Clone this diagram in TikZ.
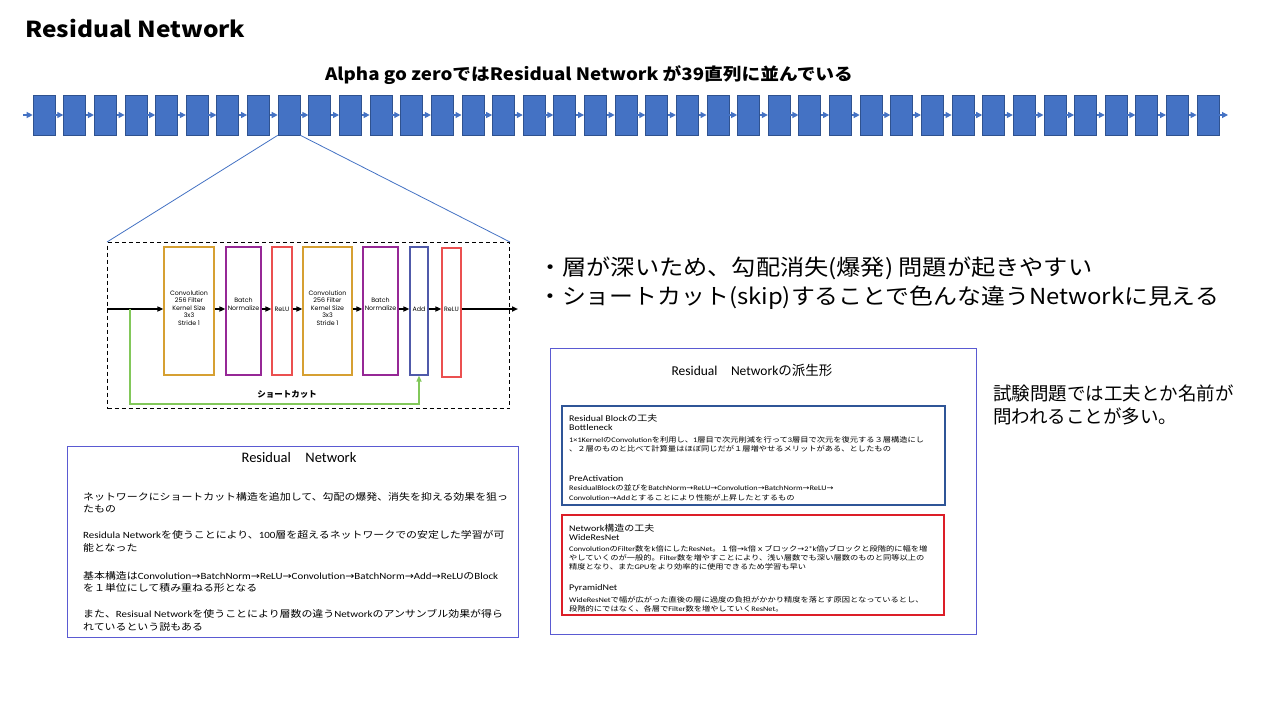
\documentclass[tikz,border=0pt]{standalone}
\usepackage{fontspec}
\usepackage{graphicx}
\usetikzlibrary{arrows.meta}
\setmainfont{Noto Sans CJK JP}
\newfontfamily\latfont{Carlito}
\newfontfamily\arrfont{DejaVu Sans}
\newfontfamily\diafont{Poppins}
\newcommand\lat[1]{{\latfont #1}}
\newcommand\rarr{{\arrfont\char"2192}}
\newcommand\sx[2]{\scalebox{#1}[1]{#2}}

\definecolor{chainblue}{RGB}{68,114,196}
\definecolor{chainedge}{RGB}{47,82,143}
\definecolor{convcol}{RGB}{214,160,50}
\definecolor{bncol}{RGB}{150,40,150}
\definecolor{relucol}{RGB}{235,80,80}
\definecolor{addcol}{RGB}{80,90,170}
\definecolor{shortcol}{RGB}{130,200,90}
\definecolor{panelcol}{RGB}{90,90,210}
\definecolor{innerblue}{RGB}{47,85,151}
\definecolor{innerred}{RGB}{220,30,40}

\begin{document}
\begin{tikzpicture}[x=1pt,y=-1pt,
  blk/.style={draw=chainedge,fill=chainblue,line width=0.6pt,minimum width=22pt,minimum height=40pt,inner sep=0pt},
  carr/.style={draw=chainblue,line width=1.2pt,-{Triangle[length=6pt,width=6pt]}},
  zline/.style={draw=chainblue,line width=0.8pt},
  lay/.style={draw,line width=1.2pt,minimum height=128pt,inner sep=0pt},
  laytxt/.style={font=\diafont\fontsize{6.3}{7.5}\selectfont,align=center,inner sep=0pt},
  marr/.style={draw=black,line width=1.5pt,-{Triangle[length=6pt,width=5pt]}},
  sarr/.style={draw=shortcol,line width=1.5pt,-{Triangle[length=6pt,width=5pt]}},
  txt/.style={anchor=base west,inner sep=0pt},
  panel/.style={draw=panelcol,line width=1pt,anchor=north west,inner sep=0pt},
  lbody/.style={txt,font=\fontsize{9.5}{11}\selectfont},
  rbody/.style={txt,font=\fontsize{7}{8}\selectfont},
  rhead/.style={txt,font=\fontsize{8.7}{10}\selectfont}
]
\useasboundingbox (0,0) rectangle (1280,720);
\fill[white] (0,0) rectangle (1280,720);

% headings
\node[txt,font=\bfseries\fontsize{22}{26}\selectfont] (title) at (25,37) {\sx{1.11}{Residual Network}};
\node[anchor=base,inner sep=0pt,font=\bfseries\fontsize{17}{20}\selectfont] (sub) at (589,80)
  {\sx{1.1}{Alpha go zeroではResidual Network が39直列に並んでいる}};

% chain of 39 residual blocks
\foreach \i in {1,...,39}
  \node[blk] (b\i) at ({44+(\i-1)*30.63},115) {};
\foreach \i [evaluate=\i as \j using int(\i+1)] in {1,...,38}
  \draw[carr] (b\i.east) -- (b\j.west);
\coordinate (cin) at (23,115);
\coordinate (cout) at (1228,115);
\draw[carr] (cin) -- (b1.west);
\draw[carr] (b39.east) -- (cout);

% expanded block
\node[draw,line width=1pt,dash pattern=on 4pt off 3pt,anchor=north west,minimum width=402pt,minimum height=166pt,inner sep=0pt] (frame) at (107,242) {};
\draw[zline] (b9.south west) -- (frame.north west);
\draw[zline] (b9.south east) -- (frame.north east);

\node[lay,draw=convcol,minimum width=50pt] (conv1) at (189,311) {};
\node[lay,draw=bncol,minimum width=35pt] (bn1) at (243.5,311) {};
\node[lay,draw=relucol,minimum width=20pt] (relu1) at (282,311) {};
\node[lay,draw=convcol,minimum width=49pt] (conv2) at (327.5,311) {};
\node[lay,draw=bncol,minimum width=35pt] (bn2) at (380.5,311) {};
\node[lay,draw=addcol,minimum width=18pt] (add) at (419,311) {};
\node[lay,draw=relucol,minimum width=19pt,minimum height=129pt] (relu2) at (451.5,312.5) {};

\node[laytxt] (conv1t) at (189,308) {Convolution\\256 Filter\\Kernel Size\\3x3\\Stride 1};
\node[laytxt] (bn1t) at (243.5,304) {Batch\\Normalize};
\node[laytxt] (relu1t) at (282,309) {ReLU};
\node[laytxt] (conv2t) at (327.5,308) {Convolution\\256 Filter\\Kernel Size\\3x3\\Stride 1};
\node[laytxt] (bn2t) at (380.5,304) {Batch\\Normalize};
\node[laytxt] (addt) at (419,309) {Add};
\node[laytxt] (relu2t) at (451.5,309) {ReLU};

\coordinate (in) at (107,309);
\coordinate (out) at (518,309);
\draw[marr] (in) -- (in -| conv1.west);
\draw[marr] (conv1.east |- in) -- (bn1.west |- in);
\draw[marr] (bn1.east |- in) -- (relu1.west |- in);
\draw[marr] (relu1.east |- in) -- (conv2.west |- in);
\draw[marr] (conv2.east |- in) -- (bn2.west |- in);
\draw[marr] (bn2.east |- in) -- (add.west |- in);
\draw[marr] (add.east |- in) -- (relu2.west |- in);
\draw[marr] (relu2.east |- in) -- (out);

\coordinate (sc) at (130,309);
\coordinate (scb) at (130,404);
\draw[sarr] (sc) -- (scb) -| (add.south);
\node[inner sep=0pt,font=\bfseries\fontsize{8.5}{10}\selectfont] (sclabel) at (287,394) {ショートカット};

% remarks
\node[txt,font=\fontsize{22}{26}\selectfont] (bl1) at (538,275) {\sx{1.1}{・層が深いため、勾配消失(爆発) 問題が起きやすい}};
\node[txt,font=\fontsize{22}{26}\selectfont] (bl2) at (538,304) {\sx{1.085}{・ショートカット(skip)することで色んな違うNetworkに見える}};
\node[txt,font=\fontsize{18.5}{22}\selectfont] (nt1) at (993,400) {試験問題では工夫とか名前が};
\node[txt,font=\fontsize{18.5}{22}\selectfont] (nt2) at (993,423) {問われることが多い。};

% left panel
\node[panel,minimum width=451pt,minimum height=191pt] (lbox) at (67,446) {};
\node[inner sep=0pt,font=\fontsize{14.5}{17}\selectfont] (ltitle) at (299,458) {\lat{Residual\hspace{1em}Network}};
\node[lbody] (l1) at (83,500) {\sx{1.15}{ネットワークにショートカット構造を追加して、勾配の爆発、消失を抑える効果を狙っ}};
\node[lbody] (l2) at (83,512) {\sx{1.15}{たもの}};
\node[lbody] (l3) at (83,538) {\sx{1.15}{\lat{Residula Network}を使うことにより、\lat{100}層を超えるネットワークでの安定した学習が可}};
\node[lbody] (l4) at (83,551) {\sx{1.15}{能となった}};
\node[lbody] (l5) at (83,579) {\sx{1.15}{基本構造は\lat{Convolution}\rarr\lat{BatchNorm}\rarr\lat{ReLU}\rarr\lat{Convolution}\rarr\lat{BatchNorm}\rarr\lat{Add}\rarr\lat{ReLU}の\lat{Block}}};
\node[lbody] (l6) at (83,591) {\sx{1.15}{を１単位にして積み重ねる形となる}};
\node[lbody] (l7) at (83,617) {\sx{1.15}{また、\lat{Resisual Network}を使うことにより層数の違う\lat{Network}のアンサンブル効果が得ら}};
\node[lbody] (l8) at (83,630) {\sx{1.15}{れているという説もある}};

% right panel
\node[panel,minimum width=426pt,minimum height=286pt] (rbox) at (550,348) {};
\node[inner sep=0pt,font=\fontsize{13.5}{16}\selectfont] (rtitle) at (752,370) {\lat{Residual\hspace{1em}Network}の派生形};

\node[panel,draw=innerblue,line width=1.5pt,minimum width=383pt,minimum height=99pt] (bluebox) at (561,405) {};
\node[rhead] (h1) at (569,421.5) {\sx{1.15}{\lat{Residual Block}の工夫}};
\node[rhead] (h2) at (569,430.5) {\sx{1.15}{\lat{Bottleneck}}};
\node[rbody] (r1) at (569,442.5) {\sx{1.18}{\lat{1×1Kernel}の\lat{Convolution}を利用し、\lat{1}層目で次元削減を行って\lat{3}層目で次元を復元する３層構造にし}};
\node[rbody] (r2) at (569,451.5) {\sx{1.18}{、２層のものと比べて計算量はほぼ同じだが１層増やせるメリットがある、としたもの}};
\node[rhead] (h3) at (569,481) {\sx{1.15}{\lat{PreActivation}}};
\node[rbody] (r3) at (569,490) {\sx{1.18}{\lat{ResidualBlock}の並びを\lat{BatchNorm}\rarr\lat{ReLU}\rarr\lat{Convolution}\rarr\lat{BatchNorm}\rarr\lat{ReLU}\rarr}};
\node[rbody] (r4) at (569,500) {\sx{1.18}{\lat{Convolution}\rarr\lat{Add}とすることにより性能が上昇したとするもの}};

\node[panel,draw=innerred,line width=1.5pt,minimum width=382pt,minimum height=100pt] (redbox) at (561,514) {};
\node[rhead] (h4) at (569,531) {\sx{1.15}{\lat{Network}構造の工夫}};
\node[rhead] (h5) at (569,540) {\sx{1.15}{\lat{WideResNet}}};
\node[rbody] (r5) at (569,551) {\sx{1.18}{\lat{Convolution}の\lat{Filter}数を\lat{k}倍にした\lat{ResNet}。１倍\rarr\lat{k}倍ｘブロック\rarr\lat{2*k}倍\lat{y}ブロックと段階的に幅を増}};
\node[rbody] (r6) at (569,560) {\sx{1.18}{やしていくのが一般的。\lat{Filter}数を増やすことにより、浅い層数でも深い層数のものと同等以上の}};
\node[rbody] (r7) at (569,569) {\sx{1.18}{精度となり、また\lat{GPU}をより効率的に使用できるため学習も早い}};
\node[rhead] (h6) at (569,590) {\sx{1.15}{\lat{PyramidNet}}};
\node[rbody] (r8) at (569,602) {\sx{1.18}{\lat{WideResNet}で幅が広がった直後の層に過度の負担がかかり精度を落とす原因となっているとし、}};
\node[rbody] (r9) at (569,611) {\sx{1.18}{段階的にではなく、各層で\lat{Filter}数を増やしていく\lat{ResNet}。}};
\end{tikzpicture}
\end{document}
